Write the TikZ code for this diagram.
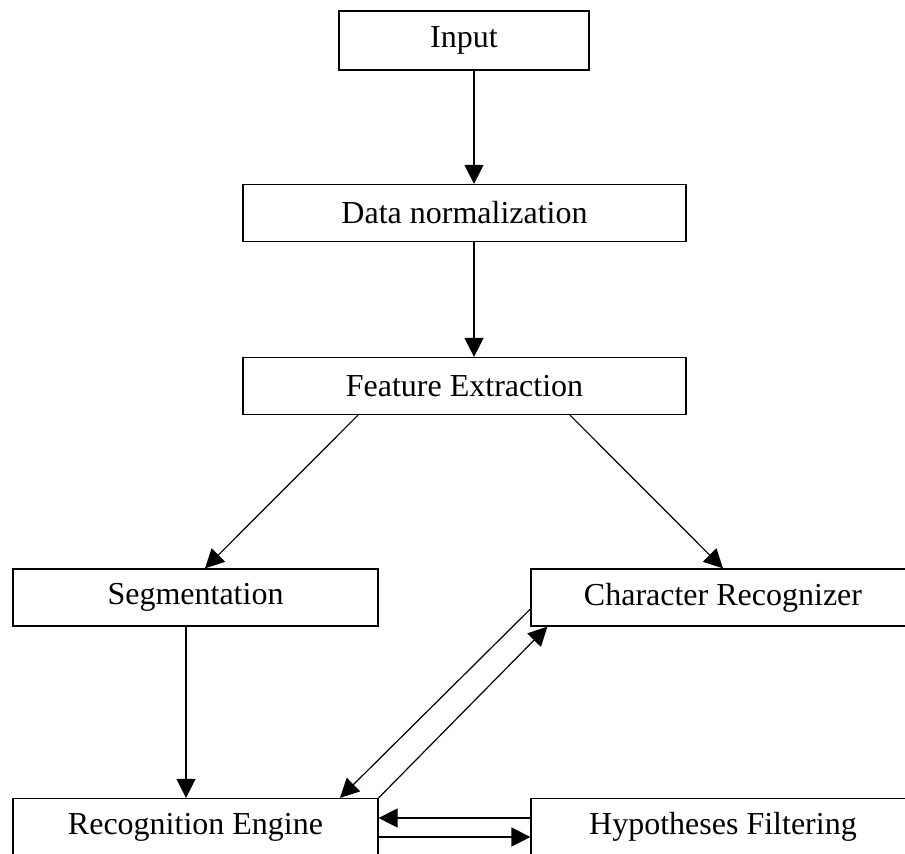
\documentclass[tikz,border=0pt]{standalone}
\usepackage{fontspec}
\setmainfont{Liberation Serif}
\usetikzlibrary{arrows.meta}

\tikzset{
  stage/.style={draw, line width=1.2pt, inner sep=0pt, minimum height=57pt,
    font=\fontsize{32}{38}\selectfont},
  flow/.style={line width=1.2pt, -{Triangle[length=19pt,width=19pt]}}
}

\begin{document}
\begin{tikzpicture}[x=1pt,y=-1pt]
% Page size (boxes at right and bottom run off the edge)
\useasboundingbox (0,0) rectangle (905,854);
\clip (0,0) rectangle (905,854);
% Boxes
\node[stage, minimum width=250pt, minimum height=59pt] (input) at (464,40.5) {Input};
\node[stage, minimum width=443pt] (norm) at (464.5,213) {Data normalization};
\node[stage, minimum width=443pt] (feat) at (464.5,386) {Feature Extraction};
\node[stage, minimum width=365pt] (seg) at (195.5,597.5) {Segmentation};
\node[stage, minimum width=384pt] (charrec) at (723,597.5) {Character Recognizer};
\node[stage, minimum width=365pt] (engine) at (195.5,827) {Recognition Engine};
\node[stage, minimum width=384pt] (filter) at (723,827) {Hypotheses Filtering};
% Arrows
\draw[flow] ([xshift=10pt]input.south) -- ([xshift=9.5pt]norm.north);
\draw[flow] ([xshift=9.5pt]norm.south) -- ([xshift=9.5pt]feat.north);
\draw[flow] ([xshift=-106.5pt]feat.south) -- ([xshift=9.5pt]seg.north);
\draw[flow] ([xshift=105.5pt]feat.south) -- (charrec.north);
\draw[flow] ([xshift=-9.5pt]seg.south) -- ([xshift=-9.5pt]engine.north);
\draw[flow] ([yshift=-11.5pt]charrec.west) -- ([xshift=144.5pt]engine.north);
\draw[flow] (engine.north east) -- ([xshift=17pt]charrec.south west);
\draw[flow] ([yshift=9pt]filter.west) -- ([yshift=9pt]engine.east);
\draw[flow] ([yshift=-10pt]engine.east) -- ([yshift=-10pt]filter.west);
\end{tikzpicture}
\end{document}
